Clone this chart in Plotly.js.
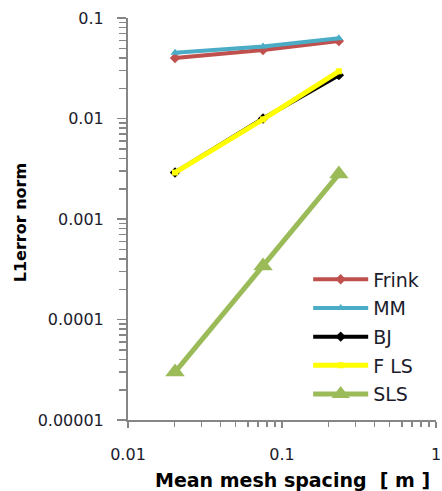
<!DOCTYPE html>
<html>
<head>
<meta charset="utf-8">
<script src="https://cdn.plot.ly/plotly-3.0.1.min.js"></script>
<style>html,body{margin:0;padding:0;background:#fff;}#chart{width:442px;height:491px;}</style>
</head>
<body>
<div id="chart"></div>
<script>
// Data
const meshSpacing = [0.0202, 0.0753, 0.234];
const frink = [0.040, 0.048, 0.059];
const mm    = [0.045, 0.052, 0.063];
const bj    = [0.0029, 0.0100, 0.027];
const fls   = [0.0029, 0.0098, 0.0295];
const sls   = [0.000030, 0.00034, 0.0028];

const seriesNames = ['Frink', 'MM', 'BJ', 'F LS', 'SLS'];
const xTickVals = [0.01, 0.1, 1];
const xTickText = ['0.01', '0.1', '1'];
const yTickVals = [0.00001, 0.0001, 0.001, 0.01, 0.1];
const yTickText = ['0.00001', '0.0001', '0.001', '0.01', '0.1'];
const xTitle = 'Mean mesh spacing  [ m ]';
const yTitle = 'L1error norm';

function minorTicks(lo, hi) {
  const out = [];
  for (let e = lo; e < hi; e++) {
    for (let d = 2; d <= 9; d++) out.push(d * Math.pow(10, e));
  }
  return out;
}

function tr(y, name, color, lw, sym, msize, grp) {
  return {
    x: meshSpacing, y: y, name: name, type: 'scatter', mode: 'lines+markers',
    line: {color: color, width: lw},
    marker: {color: color, symbol: sym, size: msize},
    legendgroup: grp
  };
}

const data = [
  tr(frink, seriesNames[0], '#C0504D', 4, 'diamond', 8, 'g1'),
  tr(mm,    seriesNames[1], '#4BACC6', 4, 'triangle-up', 8, 'g2'),
  tr(bj,    seriesNames[2], '#000000', 4, 'diamond', 8, 'g3'),
  tr(fls,   seriesNames[3], '#FFFF00', 5, 'square', 6, 'g4'),
  tr(sls,   seriesNames[4], '#9BBB59', 5, 'triangle-up', 17, 'g5')
];

const axisCommon = {
  type: 'log', showgrid: false, zeroline: false,
  showline: true, linecolor: '#868686', linewidth: 2,
  ticks: 'outside', tickcolor: '#868686', tickwidth: 1.5,
  tickmode: 'array',
  tickfont: {family: 'DejaVu Sans', size: 16, color: '#1c1c2c'}
};

const layout = {
  width: 442, height: 491,
  margin: {l: 128, r: 6, t: 18, b: 71},
  paper_bgcolor: '#fff', plot_bgcolor: '#fff',
  showlegend: true,
  legend: {
    x: 0.585, y: 0.397, xanchor: 'left', yanchor: 'top',
    font: {family: 'DejaVu Sans', size: 19, color: '#1c1c2c'},
    itemwidth: 55, traceorder: 'grouped', tracegroupgap: 1,
    bgcolor: 'rgba(0,0,0,0)'
  },
  xaxis: Object.assign({}, axisCommon, {
    range: [-2, 0], tickvals: xTickVals, ticktext: xTickText, ticklen: 6,
    ticklabelstandoff: 13,
    minor: {tickmode: 'array', tickvals: minorTicks(-2, 0), ticks: 'outside', ticklen: 5, tickcolor: '#868686', tickwidth: 1.5}
  }),
  yaxis: Object.assign({}, axisCommon, {
    range: [-5, -1], tickvals: yTickVals, ticktext: yTickText, ticklen: 9,
    ticklabelstandoff: 10,
    minor: {tickmode: 'array', tickvals: minorTicks(-5, -1), ticks: 'outside', ticklen: 7, tickcolor: '#868686', tickwidth: 1.5}
  }),
  annotations: [
    {text: '<b>' + xTitle + '</b>', xref: 'paper', yref: 'paper', x: 0.535, y: -0.149,
     xanchor: 'center', yanchor: 'middle', showarrow: false,
     font: {family: 'DejaVu Sans', size: 19, color: '#000'}},
    {text: '<b>' + yTitle + '</b>', xref: 'paper', yref: 'paper', x: -0.35, y: 0.49,
     xanchor: 'center', yanchor: 'middle', showarrow: false, textangle: -90,
     font: {family: 'DejaVu Sans', size: 16, color: '#000'}}
  ]
};

Plotly.newPlot('chart', data, layout, {displayModeBar: false, staticPlot: true});
</script>
</body>
</html>
